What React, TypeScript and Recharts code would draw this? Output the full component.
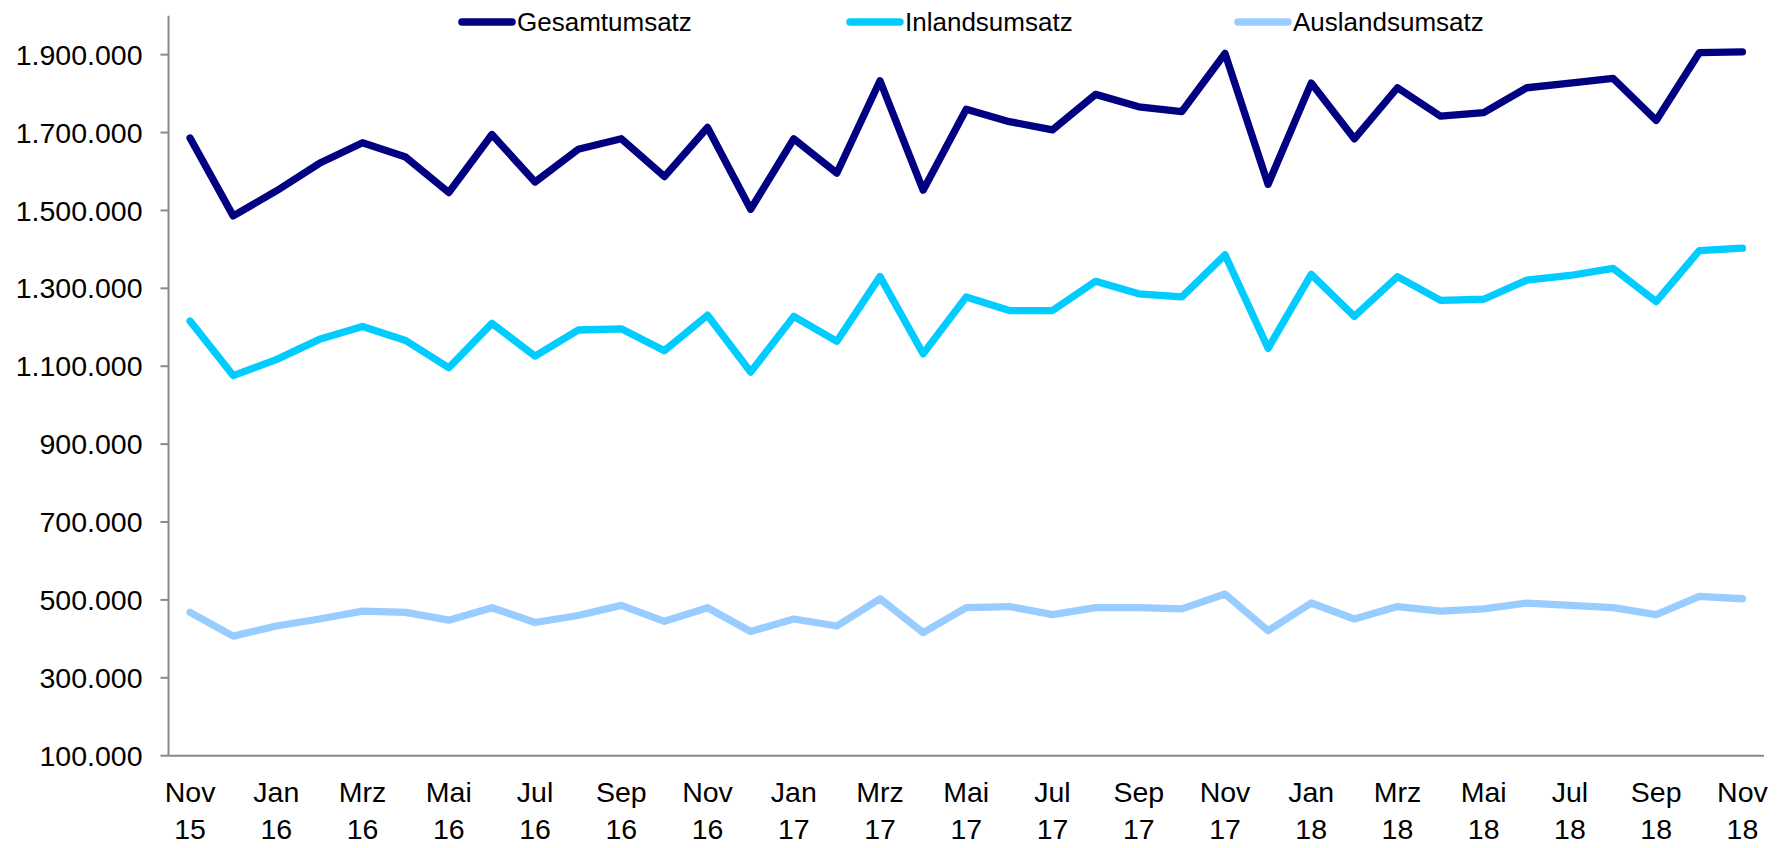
import React from "react";
import { LineChart, Line, XAxis, YAxis, Legend } from "recharts";

const months = [
  "Nov 15", "Dez 15", "Jan 16", "Feb 16", "Mrz 16", "Apr 16", "Mai 16", "Jun 16", "Jul 16", "Aug 16", "Sep 16", "Okt 16",
  "Nov 16", "Dez 16", "Jan 17", "Feb 17", "Mrz 17", "Apr 17", "Mai 17", "Jun 17", "Jul 17", "Aug 17", "Sep 17", "Okt 17",
  "Nov 17", "Dez 17", "Jan 18", "Feb 18", "Mrz 18", "Apr 18", "Mai 18", "Jun 18", "Jul 18", "Aug 18", "Sep 18", "Okt 18",
  "Nov 18",
];

const gesamt = [
  1686000, 1486000, 1550000, 1621000, 1674000, 1637000, 1546000, 1695000, 1573000, 1657000, 1684000, 1587000,
  1713000, 1503000, 1684000, 1596000, 1833000, 1552000, 1760000, 1728000, 1707000, 1798000, 1766000, 1754000,
  1903000, 1567000, 1827000, 1684000, 1815000, 1742000, 1751000, 1815000, 1827000, 1839000, 1731000, 1905000,
  1907000,
];

const inland = [
  1216000, 1076000, 1117000, 1169000, 1202000, 1166000, 1096000, 1210000, 1126000, 1193000, 1196000, 1140000,
  1231000, 1085000, 1228000, 1164000, 1330000, 1132000, 1278000, 1243000, 1243000, 1318000, 1286000, 1278000,
  1386000, 1146000, 1336000, 1228000, 1330000, 1269000, 1272000, 1321000, 1333000, 1351000, 1266000, 1397000,
  1403000,
];

const ausland = [
  468000, 407000, 433000, 451000, 471000, 468000, 448000, 480000, 442000, 460000, 486000, 445000,
  480000, 419000, 451000, 433000, 503000, 416000, 480000, 483000, 462000, 480000, 480000, 477000,
  515000, 421000, 492000, 451000, 483000, 471000, 477000, 492000, 486000, 480000, 462000, 509000,
  503000,
];

const yTicks = [100000, 300000, 500000, 700000, 900000, 1100000, 1300000, 1500000, 1700000, 1900000];
const labelTicks = [0, 2, 4, 6, 8, 10, 12, 14, 16, 18, 20, 22, 24, 26, 28, 30, 32, 34, 36];
const boundaryTicks = labelTicks.slice(0, 18).map((t) => t - 0.5);

const seriesInfo = [
  { key: "gesamt", name: "Gesamtumsatz", color: "#000080" },
  { key: "inland", name: "Inlandsumsatz", color: "#00CCFF" },
  { key: "ausland", name: "Auslandsumsatz", color: "#99CCFF" },
];

const data = months.map((m, i) => ({
  idx: i,
  label: m,
  gesamt: gesamt[i],
  inland: inland[i],
  ausland: ausland[i],
}));

const FONT = "'Liberation Sans', Arial, sans-serif";
const AXIS_COLOR = "#898989";

const fmt = (v: number) => String(v).replace(/\B(?=(\d{3})+(?!\d))/g, ".");

const MonthTick = (props: any) => {
  const { x, y, payload } = props;
  const [mon, yr] = months[payload.value].split(" ");
  return (
    <text x={x} y={y} textAnchor="middle" fontSize={28.5} fontFamily={FONT} fill="#000">
      <tspan x={x} dy={36.5}>{mon}</tspan>
      <tspan x={x} dy={37}>{yr}</tspan>
    </text>
  );
};

const LegendContent = () => (
  <div style={{ display: "flex", fontFamily: FONT }}>
    {seriesInfo.map((s) => (
      <div key={s.key} style={{ display: "flex", alignItems: "center", width: 388, height: 28 }}>
        <svg width={59} height={28} style={{ display: "block" }}>
          <line x1={4} y1={14} x2={54} y2={14} stroke={s.color} strokeWidth={7.5} strokeLinecap="round" />
        </svg>
        <span style={{ fontSize: 26, color: "#000", lineHeight: "28px" }}>{s.name}</span>
      </div>
    ))}
  </div>
);

export default function App() {
  return (
    <div style={{ width: 1769, height: 832, fontFamily: FONT }}>
      <style>{`.recharts-surface{overflow:visible}`}</style>
      <LineChart
        width={1769}
        height={832}
        data={data}
        margin={{ top: 7.7, right: 13, bottom: 8.3, left: 0 }}
      >
        <XAxis
          xAxisId="a1"
          dataKey="idx"
          type="number"
          domain={[-0.5, 36.5]}
          ticks={labelTicks}
          interval={0}
          height={66}
          tickSize={0}
          tickMargin={0}
          axisLine={false}
          tickLine={false}
          tick={<MonthTick />}
        />
        <XAxis
          xAxisId="a0"
          dataKey="idx"
          type="number"
          domain={[-0.5, 36.5]}
          ticks={boundaryTicks}
          interval={0}
          tick={false}
          height={10}
          tickSize={9}
          stroke={AXIS_COLOR}
          axisLine={{ stroke: AXIS_COLOR, strokeWidth: 2 }}
          tickLine={{ stroke: AXIS_COLOR, strokeWidth: 2 }}
        />
        <YAxis
          type="number"
          domain={[100000, 2000000]}
          ticks={yTicks}
          interval={0}
          width={160.5}
          tickSize={8}
          tickMargin={18}
          tickFormatter={fmt}
          axisLine={{ stroke: AXIS_COLOR, strokeWidth: 2 }}
          tickLine={{ stroke: AXIS_COLOR, strokeWidth: 2 }}
          tick={{ fontSize: 28.5, fill: "#000", fontFamily: FONT }}
        />
        <Legend
          verticalAlign="middle"
          align="center"
          layout="horizontal"
          content={<LegendContent />}
          wrapperStyle={{ top: 0, left: 450, width: 1200, height: 28 }}
        />
        {seriesInfo.map((s) => (
          <Line
            key={s.key}
            xAxisId="a0"
            type="linear"
            dataKey={s.key}
            name={s.name}
            stroke={s.color}
            strokeWidth={7.3}
            strokeLinecap="round"
            strokeLinejoin="round"
            dot={false}
            activeDot={false}
            isAnimationActive={false}
          />
        ))}
      </LineChart>
    </div>
  );
}
